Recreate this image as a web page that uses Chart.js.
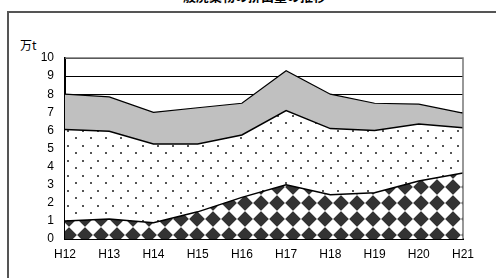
<!DOCTYPE html>
<html><head><meta charset="utf-8">
<script src="https://cdn.jsdelivr.net/npm/chart.js@4/dist/chart.umd.min.js"></script>
<style>
html,body{margin:0;padding:0;background:#fff;overflow:hidden;}
#wrap{position:relative;width:496px;height:278px;overflow:hidden;}
#frame{position:absolute;left:7px;top:11px;width:600px;height:400px;border-left:2px solid #555;border-top:2px solid #555;box-sizing:border-box;}
#title{position:absolute;left:0;width:496px;top:-11px;text-align:center;font:bold 13px "Noto Sans CJK JP",sans-serif;line-height:13px;color:#000;}
#unit{position:absolute;left:20px;top:36px;font:12px "Noto Sans CJK JP",sans-serif;color:#000;}
canvas{position:absolute;left:0;top:0;}
</style></head>
<body><div id="wrap">
<div id="title">一般廃棄物の排出量の推移</div>
<div id="frame"></div>
<div id="unit">万t</div>
<canvas id="c" width="496" height="278"></canvas>
</div>
<script>
const categories = ["H12","H13","H14","H15","H16","H17","H18","H19","H20","H21"];
const seriesA = [1.0, 1.1, 0.9, 1.5, 2.3, 3.0, 2.45, 2.55, 3.2, 3.65];
const seriesB = [5.05, 4.85, 4.35, 3.75, 3.45, 4.1, 3.65, 3.45, 3.15, 2.5];
const seriesC = [1.95, 1.9, 1.75, 2.0, 1.75, 2.2, 1.9, 1.5, 1.1, 0.8];
const yTicks = [0,1,2,3,4,5,6,7,8,9,10];

function diamondPattern(){
  const s=16, c=document.createElement('canvas'); c.width=s; c.height=s;
  const ctx=c.getContext('2d'); const img=ctx.createImageData(s,s);
  const cx=5, cy=11;
  for(let y=0;y<s;y++)for(let x=0;x<s;x++){
    let u=((x+0.5-cx)%s+s)%s; if(u>s/2)u=s-u;
    let v=((y+0.5-cy)%s+s)%s; if(v>s/2)v=s-v;
    const d=u+v; let t=(8.6-d)/1.6; t=Math.max(0,Math.min(1,t));
    const val=Math.round(255-(255-51)*t);
    const i=(y*s+x)*4; img.data[i]=val;img.data[i+1]=val;img.data[i+2]=val;img.data[i+3]=255;
  }
  ctx.putImageData(img,0,0);
  return c.getContext('2d').createPattern(c,'repeat');
}
function dotPattern(){
  const s=15, c=document.createElement('canvas'); c.width=s; c.height=s;
  const ctx=c.getContext('2d'); ctx.fillStyle='#fff'; ctx.fillRect(0,0,s,s);
  ctx.fillStyle='#555';
  ctx.fillRect(0,2,2,2); ctx.fillRect(7,10,2,2);
  return ctx.createPattern(c,'repeat');
}

const frameRight = {
  id:'frameRight',
  afterDatasetsDraw(chart){
    const a=chart.chartArea, ctx=chart.ctx;
    ctx.save(); ctx.strokeStyle='#777'; ctx.lineWidth=1.5;
    ctx.beginPath(); ctx.moveTo(a.left,a.top); ctx.lineTo(a.right,a.top); ctx.lineTo(a.right,a.bottom); ctx.stroke();
    ctx.restore();
  }
};

new Chart(document.getElementById('c'),{
  type:'line',
  data:{labels:categories,datasets:[
    {data:seriesA,fill:'origin',backgroundColor:diamondPattern(),borderColor:'#000',borderWidth:1.5,pointRadius:0,tension:0},
    {data:seriesB,fill:'-1',backgroundColor:dotPattern(),borderColor:'#000',borderWidth:1.5,pointRadius:0,tension:0},
    {data:seriesC,fill:'-1',backgroundColor:'#c0c0c0',borderColor:'#000',borderWidth:1.2,pointRadius:0,tension:0}
  ]},
  options:{
    responsive:false,animation:false,devicePixelRatio:1,
    layout:{padding:{top:58,right:33,left:0,bottom:0}},
    plugins:{legend:{display:false},tooltip:{enabled:false},title:{display:false}},
    scales:{
      x:{offset:false,grid:{display:false,drawTicks:false},border:{color:'#000',width:2},
        ticks:{color:'#000',font:{family:'Liberation Sans',size:12},padding:8,maxRotation:0},
        afterFit(s){s.height=39;}},
      y:{stacked:true,min:0,max:10,
        grid:{color:'#000',lineWidth:1,drawTicks:false},border:{color:'#000',width:2},
        afterBuildTicks(s){s.ticks=yTicks.map(v=>({value:v}));},
        ticks:{color:'#000',font:{family:'Liberation Sans',size:12},padding:11,stepSize:1},
        afterFit(s){s.width=65;}}
    }
  },
  plugins:[frameRight]
});
</script>
</body></html>
